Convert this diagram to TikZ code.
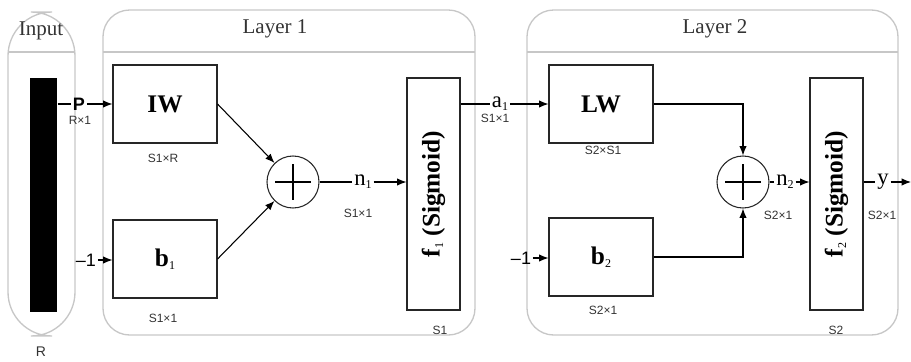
\documentclass[tikz,border=0pt]{standalone}
\usepackage{fontspec}
\setmainfont{Liberation Serif}
\setsansfont{Liberation Sans}
\usetikzlibrary{arrows.meta}
\newcommand{\idx}[1]{\raisebox{-0.3ex}{\mdseries\fontsize{9}{9}\selectfont #1}}

\begin{document}
\begin{tikzpicture}[x=0.75pt,y=-0.75pt,line width=0.8pt,
    >={Latex[length=7pt,width=5.5pt]},
    panel/.style={draw=black!22,line width=1pt},
    box/.style={draw=black!85,minimum width=78pt,minimum height=58.5pt,
      font=\fontsize{19}{19}\selectfont\bfseries},
    fbox/.style={draw=black!85,minimum width=39.75pt,minimum height=174pt},
    sum/.style={draw=black!85,circle,minimum size=39pt,inner sep=0pt},
    sig/.style={font=\fontsize{17}{17}\selectfont,inner sep=1pt},
    ttl/.style={font=\fontsize{15.75}{15.75}\selectfont,text=black!80},
    dim/.style={font=\sffamily\fontsize{9}{9}\selectfont,text=black!80},
    src/.style={font=\sffamily\fontsize{13.5}{13.5}\selectfont,inner sep=1pt}]
  \useasboundingbox (0,0) rectangle (911,361);
  \draw[panel,rounded corners=33] (8,12) rectangle (75,336);
  \draw[panel,rounded corners=20] (103,10) rectangle (475,335);
  \draw[panel,rounded corners=20] (527,10) rectangle (898,335);
  \draw[panel] (8,52) -- (75,52) (103,52) -- (475,52) (527,52) -- (898,52);
  \node[ttl] (tin) at (41,31) {Input};
  \node[ttl] (tl1) at (275,29) {Layer 1};
  \node[ttl] (tl2) at (715,29) {Layer 2};
  \node[dim,font=\sffamily\fontsize{10.5}{10.5}\selectfont] (rin) at (41,352) {R};

  \node[fill=black,minimum width=20.25pt,minimum height=175.5pt,inner sep=0pt] (bar) at (43.5,195) {};
  \node[box] (iw) at (165,104) {IW};
  \node[box] (b1) at (165,259) {b\idx{1}};
  \node[sum] (s1) at (293,182) {};
  \node[fbox] (f1) at (433.5,194) {};
  \node[rotate=90,font=\fontsize{19}{19}\selectfont\bfseries] (f1t) at (f1) {f\idx{1} (Sigmoid)};
  \node[box] (lw) at (601,104) {LW};
  \node[box] (b2) at (601,257) {b\idx{2}};
  \node[sum] (s2) at (743,182) {};
  \node[fbox] (f2) at (836.5,194) {};
  \node[rotate=90,font=\fontsize{19}{19}\selectfont\bfseries] (f2t) at (f2) {f\idx{2} (Sigmoid)};
  \foreach \s in {s1,s2}
    \draw (\s) ++(-18,0) -- ++(36,0) (\s) ++(0,-18) -- ++(0,36);

  \node[src,font=\sffamily\bfseries\fontsize{13.5}{13.5}\selectfont] (p) at (79,104) {P};
  \node[src] (m1) at (86,260) {--1};
  \node[sig] (n1) at (363,182) {n\idx{1}};
  \node[sig] (a1) at (500,104) {a\idx{1}};
  \node[src] (m2) at (521,258) {--1};
  \node[sig] (n2) at (785,182) {n\idx{2}};
  \node[sig] (y) at (883,182) {y};
  \coordinate (out) at (911,182);

  \node[dim] (dp) at (80,120) {R×1};
  \node[dim] (diw) at (163,158) {S1×R};
  \node[dim] (db1) at (163,318) {S1×1};
  \node[dim] (dn1) at (358,213) {S1×1};
  \node[dim] (df1) at (440,330) {S1};
  \node[dim] (da1) at (495,118) {S1×1};
  \node[dim] (dlw) at (603,150) {S2×S1};
  \node[dim] (db2) at (603,310) {S2×1};
  \node[dim] (dn2) at (778,215) {S2×1};
  \node[dim] (df2) at (836,330) {S2};
  \node[dim] (dy) at (882,215) {S2×1};

  \draw (bar.east |- p) -- (p.west);
  \draw[->] (p.east) -- (iw.west);
  \draw[->] (m1.east) -- (m1.east -| b1.west);
  \draw[->] (iw.east) -- (s1);
  \draw[->] (b1.east) -- (s1);
  \draw (s1.east) -- (n1.west);
  \draw[->] (n1.east) -- (n1.east -| f1.west);
  \draw (f1.east |- a1) -- (a1.west);
  \draw[->] (a1.east) -- (lw.west);
  \draw[->] (m2.east) -- (m2.east -| b2.west);
  \draw[->] (lw.east) -| (s2.north);
  \draw[->] (b2.east) -| (s2.south);
  \draw (s2.east) -- (n2.west);
  \draw[->] (n2.east) -- (n2.east -| f2.west);
  \draw (f2.east |- y) -- (y.west);
  \draw[->] (y.east) -- (out);
\end{tikzpicture}
\end{document}
